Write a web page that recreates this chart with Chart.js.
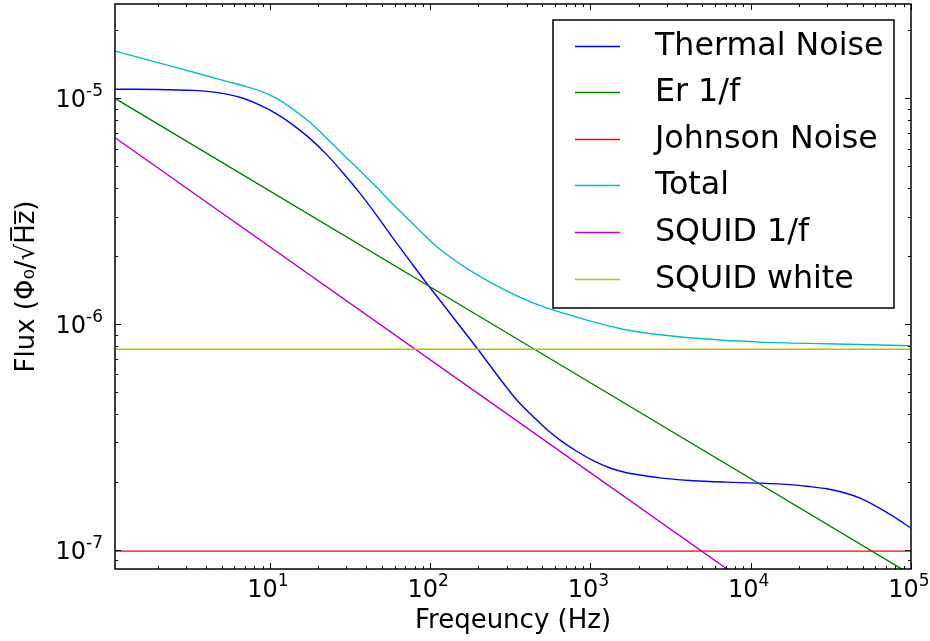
<!DOCTYPE html>
<html>
<head>
<meta charset="utf-8">
<script src="https://cdn.jsdelivr.net/npm/chart.js@4.4.0/dist/chart.umd.min.js"></script>
<style>
  body { margin: 0; background: #fff; }
  #wrap { width: 930px; height: 641px; }
</style>
</head>
<body>
<div id="wrap"><canvas id="noiseChart" width="930" height="641"></canvas></div>
<script>
// values (frequency in Hz, flux in Phi0/sqrt(Hz))
const thermalFreq = [1.08, 2.0, 3.32, 4.23, 5.37, 6.79, 8.66, 11.0, 13.97, 17.8, 22.6, 28.6, 36.5, 46.4, 58.7, 74.8, 95,
    195, 346, 533, 646, 820, 1041, 1324, 1683, 2135, 2715, 4385, 7080, 11430, 18450, 23440, 29800, 37840, 48100, 61100, 77600, 100000];
const thermalFlux = [1.099e-5, 1.096e-5, 1.086e-5, 1.072e-5, 1.045e-5, 1.002e-5, 9.35e-6, 8.55e-6, 7.62e-6, 6.64e-6, 5.64e-6, 4.68e-6, 3.80e-6, 3.03e-6, 2.40e-6, 1.905e-6, 1.52e-6,
    7.87e-7, 4.63e-7, 3.43e-7, 3.07e-7, 2.74e-7, 2.49e-7, 2.31e-7, 2.20e-7, 2.14e-7, 2.09e-7, 2.03e-7, 2.00e-7, 1.98e-7, 1.945e-7, 1.91e-7, 1.87e-7, 1.80e-7, 1.70e-7, 1.56e-7, 1.41e-7, 1.25e-7];

const totalFreq = [1.08, 2.62, 5.37, 6.81, 8.66, 11.0, 13.9, 17.8, 22.6, 28.6, 36.5, 46.4, 58.6, 74.8, 115, 204, 419, 860, 1760, 4360, 11430, 29800, 100000];
const totalFlux = [1.62e-5, 1.37e-5, 1.19e-5, 1.138e-5, 1.081e-5, 1.002e-5, 8.97e-6, 7.82e-6, 6.67e-6, 5.65e-6, 4.79e-6, 4.04e-6, 3.40e-6, 2.87e-6, 2.15e-6, 1.63e-6, 1.26e-6, 1.065e-6, 9.39e-7, 8.69e-7, 8.34e-7, 8.20e-7, 8.04e-7];

const edgeFreq = [1.08, 100000];
const erFlux = [1.0e-5, 7.8e-8];
const johnsonFlux = [9.9e-8, 9.9e-8];
const squidFFlux = [6.7e-6, 2.2e-8];
const squidWhiteFlux = [7.75e-7, 7.75e-7];

const xTickValues = [10, 100, 1000, 10000, 100000];
const yTickValues = [1e-7, 1e-6, 1e-5];

function pts(xs, ys) {
    return xs.map((x, i) => ({ x: x, y: ys[i] }));
}

// classic matplotlib look: ticks inside on all four sides plus a full frame
const innerTicks = {
    id: 'innerTicks',
    afterDatasetsDraw(chart) {
        const ctx = chart.ctx;
        const a = chart.chartArea;
        const xs = chart.scales.x, ys = chart.scales.y;
        ctx.save();
        ctx.strokeStyle = '#000';
        ctx.lineWidth = 1;
        ctx.beginPath();
        for (let e = 0; e <= 5; e++) {
            for (let m = 1; m <= 9; m++) {
                const v = m * Math.pow(10, e);
                if (v < xs.min || v > xs.max) continue;
                const px = Math.round(xs.getPixelForValue(v)) + 0.5;
                const len = m === 1 ? 6 : 3;
                ctx.moveTo(px, a.bottom); ctx.lineTo(px, a.bottom - len);
                ctx.moveTo(px, a.top); ctx.lineTo(px, a.top + len);
            }
        }
        for (let e = -8; e <= -5; e++) {
            for (let m = 1; m <= 9; m++) {
                const v = m * Math.pow(10, e);
                if (v < ys.min || v > ys.max) continue;
                const py = Math.round(ys.getPixelForValue(v)) + 0.5;
                const len = m === 1 ? 6 : 3;
                ctx.moveTo(a.left, py); ctx.lineTo(a.left + len, py);
                ctx.moveTo(a.right, py); ctx.lineTo(a.right - len, py);
            }
        }
        ctx.stroke();
        ctx.lineWidth = 1.5;
        ctx.strokeRect(a.left, a.top, a.right - a.left, a.bottom - a.top);
        ctx.restore();
    }
};

// tick labels as 10 with a raised exponent, placed from the scale ticks
const powerLabels = {
    id: 'powerLabels',
    afterDraw(chart) {
        const ctx = chart.ctx;
        const a = chart.chartArea;
        const xs = chart.scales.x, ys = chart.scales.y;
        const big = '24px "DejaVu Sans"', small = '17px "DejaVu Sans"';
        ctx.save();
        ctx.fillStyle = '#000';
        ctx.textBaseline = 'alphabetic';
        ctx.textAlign = 'left';
        function draw(v, ax, baseY, align) {
            const exp = String(Math.round(Math.log10(v)));
            ctx.font = big;
            const wb = ctx.measureText('10').width;
            ctx.font = small;
            const we = ctx.measureText(exp).width;
            const left = align === 'right' ? ax - wb - we : ax - (wb + we) / 2 - 2;
            ctx.font = big;
            ctx.fillText('10', left, baseY);
            ctx.font = small;
            ctx.fillText(exp, left + wb, baseY - 11);
        }
        xs.ticks.forEach(t => draw(t.value, xs.getPixelForValue(t.value), a.bottom + 28, 'center'));
        ys.ticks.forEach(t => draw(t.value, a.left - 12, ys.getPixelForValue(t.value) + 9, 'right'));
        ctx.restore();
    }
};

const legendBox = {
    id: 'legendBox',
    afterDraw(chart) {
        const ctx = chart.ctx;
        const a = chart.chartArea;
        const x0 = a.right - 358, y0 = a.top + 16, w = 341, h = 288;
        ctx.save();
        ctx.fillStyle = '#fff';
        ctx.fillRect(x0, y0, w, h);
        ctx.strokeStyle = '#000';
        ctx.lineWidth = 1.5;
        ctx.strokeRect(x0, y0, w, h);
        ctx.font = '31.7px "DejaVu Sans"';
        ctx.textBaseline = 'middle';
        chart.data.datasets.forEach((ds, i) => {
            const y = Math.round(y0 + 25.5 + i * 46.6) + 0.5;
            ctx.strokeStyle = ds.borderColor;
            ctx.lineWidth = 1.3;
            ctx.beginPath();
            ctx.moveTo(x0 + 22, y);
            ctx.lineTo(x0 + 67, y);
            ctx.stroke();
            ctx.fillStyle = '#000';
            ctx.fillText(ds.label, x0 + 102, y);
        });
        ctx.restore();
    }
};

function line(label, xs, ys, color, order) {
    return {
        label: label,
        data: pts(xs, ys),
        borderColor: color,
        backgroundColor: color,
        borderWidth: 1.4,
        pointRadius: 0,
        tension: 0.3,
        order: order
    };
}

const ctx = document.getElementById('noiseChart').getContext('2d');
const chart = new Chart(ctx, {
    type: 'line',
    data: {
        datasets: [
            line('Thermal Noise', thermalFreq, thermalFlux, '#0000ff', 6),
            line('Er 1/f', edgeFreq, erFlux, '#008000', 5),
            line('Johnson Noise', edgeFreq, johnsonFlux, '#ff0000', 4),
            line('Total', totalFreq, totalFlux, '#00bfbf', 3),
            line('SQUID 1/f', edgeFreq, squidFFlux, '#bf00bf', 2),
            line('SQUID white', edgeFreq, squidWhiteFlux, '#bfbf00', 1)
        ]
    },
    options: {
        responsive: false,
        animation: false,
        layout: { padding: { left: 0, right: 19, top: 4, bottom: 0 } },
        plugins: {
            legend: { display: false },
            tooltip: { enabled: false }
        },
        scales: {
            x: {
                type: 'logarithmic',
                min: 1.079,
                max: 100000,
                grid: { display: false, drawTicks: false },
                border: { display: false },
                afterBuildTicks: s => { s.ticks = xTickValues.map(v => ({ value: v })); },
                afterFit: s => { s.height = 72; s.paddingLeft = 0; s.paddingRight = 0; },
                ticks: { display: false },
                title: {
                    display: true,
                    text: 'Freqeuncy (Hz)',
                    color: '#000',
                    font: { family: 'DejaVu Sans', size: 26 },
                    padding: { top: 0, bottom: 4 }
                }
            },
            y: {
                type: 'logarithmic',
                min: 8.25e-8,
                max: 2.62e-5,
                grid: { display: false, drawTicks: false },
                border: { display: false },
                afterBuildTicks: s => { s.ticks = yTickValues.map(v => ({ value: v })); },
                afterFit: s => { s.width = 115; s.paddingTop = 0; s.paddingBottom = 0; },
                ticks: { display: false },
                title: {
                    display: true,
                    text: 'Flux (\u03a6\u2080/\u221aH\u0305z\u0305)',
                    color: '#000',
                    font: { family: 'DejaVu Sans', size: 26 },
                    padding: { top: 12, bottom: 0 }
                }
            }
        }
    },
    plugins: [innerTicks, powerLabels, legendBox]
});
</script>
</body>
</html>
